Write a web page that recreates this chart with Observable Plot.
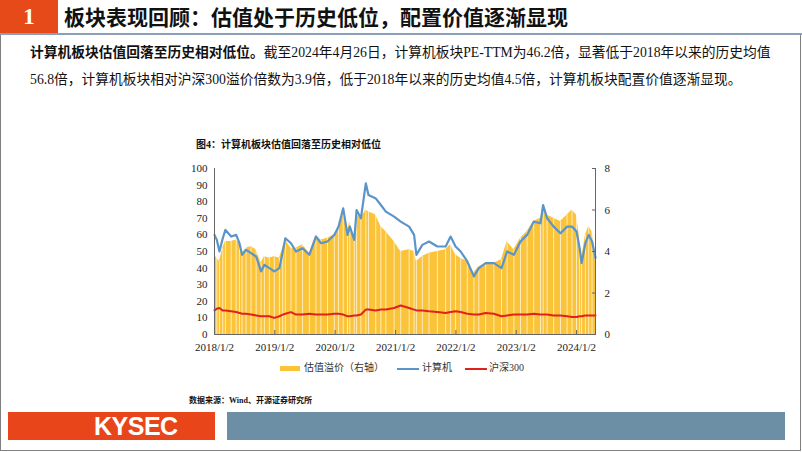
<!DOCTYPE html>
<html><head><meta charset="utf-8">
<script src="https://cdn.jsdelivr.net/npm/d3@7"></script>
<script src="https://cdn.jsdelivr.net/npm/@observablehq/plot@0.6"></script>
<style>
body{margin:0;background:#fff;}
#page{position:relative;width:802px;height:452px;overflow:hidden;font-family:"Liberation Serif","Noto Sans CJK SC",serif;color:#111;}
.abs{position:absolute;white-space:nowrap;}
#frame{position:absolute;left:0;top:33px;width:799px;height:417px;border-left:1px solid #808080;border-right:1px solid #808080;border-bottom:1px solid #808080;}
#hdrbox{left:0;top:0;width:58px;height:33px;background:#e64a19;color:#fff;font-weight:bold;font-size:23px;line-height:33px;text-align:center;}
#hdr{left:64px;top:0;height:33px;line-height:33px;font-size:21px;font-weight:bold;font-family:"Noto Sans CJK SC",sans-serif;color:#111;}
#hline{left:0;top:33px;width:802px;height:2px;background:#8aa0b8;}
.para{left:30px;font-size:13.75px;line-height:18px;}
#ctitle{left:196px;top:136px;font-size:10px;font-weight:bold;}
#chart{left:170px;top:155px;}
.leg{top:361px;font-size:10px;line-height:13px;color:#333;}
#src{left:189px;top:394px;font-size:8px;font-weight:bold;}
#kbox{left:8px;top:412px;width:207px;height:28px;background:#e8461a;}
#ktext{left:94px;top:412px;height:28px;line-height:29px;font-family:"Liberation Sans",Arial,sans-serif;font-weight:bold;font-size:25px;color:#fff;letter-spacing:-0.5px;}
#bbox{left:227px;top:412px;width:558px;height:28px;background:#6d8fa6;}
</style></head><body>
<div id="page">
  <div id="frame"></div>
  <div class="abs" id="hdrbox">1</div>
  <div class="abs" id="hdr">板块表现回顾：估值处于历史低位，配置价值逐渐显现</div>
  <div class="abs" id="hline"></div>
  <div class="abs para" style="top:44px"><b>计算机板块估值回落至历史相对低位。</b>截至2024年4月26日，计算机板块PE-TTM为46.2倍，显著低于2018年以来的历史均值</div>
  <div class="abs para" style="top:71px">56.8倍，计算机板块相对沪深300溢价倍数为3.9倍，低于2018年以来的历史均值4.5倍，计算机板块配置价值逐渐显现。</div>
  <div class="abs" id="ctitle">图4：计算机板块估值回落至历史相对低位</div>
  <div class="abs" id="chart"></div>
  <div class="abs leg" style="left:280px;"><span style="display:inline-block;width:20px;height:5px;background:#fbc338;vertical-align:middle;margin-right:4px;"></span>估值溢价（右轴）</div>
  <div class="abs leg" style="left:397px;"><span style="display:inline-block;width:22px;height:2px;background:#5b94c8;vertical-align:middle;margin-right:3px;"></span>计算机</div>
  <div class="abs leg" style="left:465px;"><span style="display:inline-block;width:22px;height:2px;background:#e0221b;vertical-align:middle;margin-right:2px;"></span>沪深300</div>
  <div class="abs" id="src">数据来源：Wind、开源证券研究所</div>
  <div class="abs" id="kbox"></div>
  <div class="abs" id="ktext">KYSEC</div>
  <div class="abs" id="bbox"></div>
</div>
<script>
const dates = ["2018-01-02","2018-01-16","2018-02-01","2018-02-21","2018-03-09","2018-04-13","2018-05-13","2018-06-02","2018-06-18","2018-07-12",
"2018-08-11","2018-09-11","2018-10-11","2018-10-31","2018-11-30","2018-12-30","2019-01-30","2019-02-19","2019-03-07","2019-04-10",
"2019-05-10","2019-06-19","2019-07-30","2019-09-08","2019-10-08","2019-11-17","2019-12-28","2020-01-23","2020-02-20","2020-03-17",
"2020-03-31","2020-04-27","2020-05-11","2020-06-06","2020-07-06","2020-07-22","2020-09-04","2020-10-05","2020-11-04","2020-12-24",
"2021-02-02","2021-03-25","2021-04-24","2021-05-08","2021-06-13","2021-07-23","2021-09-12","2021-11-01","2021-12-01","2021-12-31",
"2022-01-31","2022-03-12","2022-04-21","2022-05-21","2022-07-01","2022-08-20","2022-10-05","2022-11-08","2022-12-19","2023-01-28",
"2023-03-09","2023-04-18","2023-05-29","2023-06-14","2023-07-08","2023-08-17","2023-09-27","2023-11-06","2023-12-06","2024-01-02",
"2024-01-21","2024-02-02","2024-02-25","2024-03-16","2024-04-05","2024-04-26"];
const computerPE = [60,57,50,58,63,59,60,55,48,51,
49,47,38,42,40,38,40,50,58,55,
50,52,48,59,55,56,60,65,76,60,
65,57,75,70,91,84,82,78,74,71,
68,65,60,48,54,56,53,53,59,53,
50,44,35,40,43,43,40,50,48,56,
60,68,67,78,70,65,61,65,65,62,
52,43,55,60,56,46.2];
const hs300PE = [14.5,15.5,16,14.5,14.5,14,13.5,13,12.5,12.5,
12,11.5,11,11,11,10,11,12,12.5,13.5,
12,12,12.5,12,12,12,12.5,12.5,12,11,
11,11.5,11.5,12,15,15,14.5,15,15,16,
17.5,16,15,14.5,14.5,14,13.5,13,13.5,14,
13.5,12.5,12,12,13,12.5,11,11.5,12,12,
12,12.5,12,12,12,11.5,11.5,11,10.5,10.5,
11,11,11.5,11.5,11.5,11.5];
const premium = [3.84,3.68,3.52,4.16,4.48,4.48,4.56,4.40,3.92,4.16,
4.24,4.08,3.44,3.76,3.68,3.76,3.68,4.16,4.56,4.16,
4.16,4.32,3.92,4.80,4.56,4.64,4.80,5.12,5.76,4.96,
5.44,4.64,5.76,5.60,6.00,5.92,5.76,5.20,4.96,4.48,
4.00,4.08,4.00,3.52,3.76,3.92,4.00,4.08,4.32,3.84,
3.68,3.52,2.96,3.28,3.36,3.44,3.60,4.48,4.08,4.64,
4.96,5.44,5.60,6.00,5.76,5.60,5.44,5.76,6.00,5.76,
4.64,3.68,4.80,5.20,4.96,3.90];
const leftTicks = [0,10,20,30,40,50,60,70,80,90,100];
const rightTicks = [0,2,4,6,8];
const xTickLabels = ["2018-01-02","2019-01-02","2020-01-02","2021-01-02","2022-01-02","2023-01-02","2024-01-02"];

const parse = d3.utcParse("%Y-%m-%d");
const k = 100 / 8; // right axis (0-8) onto left axis (0-100)
const rows = dates.map((d, i) => ({date: parse(d), pe: computerPE[i], hs: hs300PE[i], prem: premium[i]}));
const x0 = rows[0].date, x1 = rows[rows.length - 1].date;
const xt = xTickLabels.map(parse);

const chart = Plot.plot({
  width: 460, height: 199,
  marginLeft: 44, marginRight: 35, marginTop: 13, marginBottom: 20,
  style: {fontFamily: "Liberation Serif", fontSize: "11px", color: "#222", background: "transparent", overflow: "visible"},
  x: {type: "utc", domain: [x0, x1]},
  y: {domain: [0, 100]},
  marks: [
    Plot.areaY(rows, {x: "date", y: d => d.prem * k, fill: "#fbc338"}),
    Plot.ruleX(rows.slice(1, -1), {x: "date", y1: 0, y2: d => d.prem * k, stroke: "#fff", strokeWidth: 0.8, strokeOpacity: 0.85}),
    Plot.line(rows, {x: "date", y: "hs", stroke: "#e0221b", strokeWidth: 2}),
    Plot.line(rows, {x: "date", y: "pe", stroke: "#5b94c8", strokeWidth: 2.2}),
    Plot.ruleY([0], {stroke: "#666"}),
    Plot.ruleX([x0, x1], {stroke: "#666"}),
    Plot.axisY(leftTicks, {anchor: "left", tickSize: 0, tickPadding: 7, label: null}),
    Plot.axisY(rightTicks.map(v => v * k), {anchor: "right", tickSize: 0, tickPadding: 9, tickFormat: v => v / k, label: null}),
    Plot.axisY(rightTicks.map(v => v * k), {anchor: "right", tickSize: 4, dx: -4, tickFormat: () => "", label: null, stroke: "#666"}),
    Plot.axisX(xt, {tickSize: 0, tickPadding: 9, tickFormat: d3.utcFormat("%Y/%-m/%-d"), label: null}),
    Plot.axisX(xt, {tickSize: 4, dy: -4, tickFormat: () => "", label: null, stroke: "#666"})
  ]
});
document.getElementById("chart").appendChild(chart);
</script>
</body></html>
